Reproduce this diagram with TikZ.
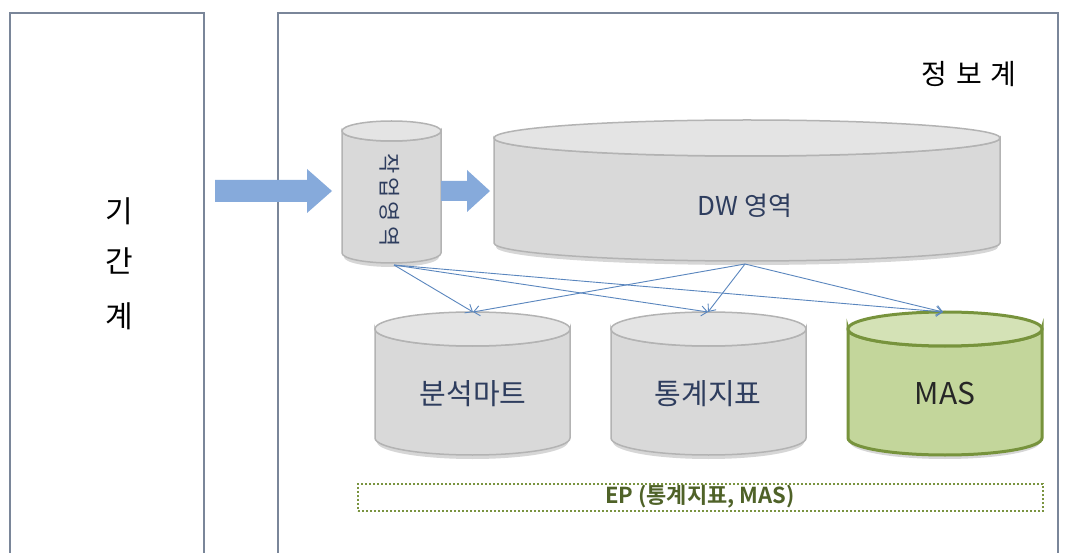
\documentclass[tikz,border=0pt]{standalone}
\usepackage{fontspec}
\newfontfamily\kr{Noto Sans CJK KR}
\newfontfamily\krb{Noto Sans CJK KR Bold}
\usetikzlibrary{arrows.meta,calc}
\definecolor{frame}{HTML}{7A8699}
\definecolor{cylfill}{HTML}{D9D9D9}
\definecolor{cyltop}{HTML}{E4E4E4}
\definecolor{cylline}{HTML}{B3B3B3}
\definecolor{masfill}{HTML}{C3D69B}
\definecolor{mastop}{HTML}{D4E2B6}
\definecolor{masline}{HTML}{77933C}
\definecolor{arrowblue}{HTML}{86AADB}
\definecolor{linkblue}{HTML}{5A86BE}
\definecolor{navytext}{HTML}{2E3D5E}
\definecolor{eptext}{HTML}{4F6228}
\definecolor{epline}{HTML}{7A9440}
\tikzset{
  framebox/.style={draw=frame, line width=2pt},
  label/.style={font=\kr, inner sep=0pt},
  link/.style={draw=linkblue, line width=0.9pt, -{Straight Barb[length=6pt,width=10pt]}},
  bigarrow/.style={fill=arrowblue, draw=none},
}
% cylinder: x1, x2, top, bottom, ry, body fill, top fill, line colour, line width
\newcommand\drawcyl[9]{%
  \pgfmathsetmacro\rx{(#2-#1)/2}%
  \pgfmathsetmacro\cx{(#1+#2)/2}%
  \pgfmathsetmacro\yt{#3+#5}%
  \pgfmathsetmacro\yb{#4-#5}%
  \fill[black!35, opacity=0.45] (#1+2,\yt+4) -- (#1+2,\yb+4) arc[start angle=180, end angle=0, x radius=\rx-2, y radius=#5] -- (#2-2,\yt+4) -- cycle;
  \filldraw[fill=#6, draw=#8, line width=#9] (#1,\yt) -- (#1,\yb) arc[start angle=180, end angle=0, x radius=\rx, y radius=#5] -- (#2,\yt) arc[start angle=0, end angle=180, x radius=\rx, y radius=#5] -- cycle;
  \filldraw[fill=#7, draw=#8, line width=#9] (\cx,\yt) ellipse[x radius=\rx, y radius=#5];
}
\begin{document}
\begin{tikzpicture}[x=1pt, y=-1pt]
\useasboundingbox (0,0) rectangle (1071,553);
\fill[white] (0,0) rectangle (1071,553);

% system frames
\draw[framebox] (10,600) -- (10,13) -- (204,13) -- (204,600);
\draw[framebox] (278,600) -- (278,13) -- (1058,13) -- (1058,600);
\node[label, font=\kr\fontsize{30}{30}\selectfont, anchor=center] (gi) at (119,211) {기};
\node[label, font=\kr\fontsize{30}{30}\selectfont, anchor=center] (gan) at (119,261) {간};
\node[label, font=\kr\fontsize{30}{30}\selectfont, anchor=center] (gye) at (119,316) {계};
\node[label, font=\kr\fontsize{28}{28}\selectfont, anchor=center] (info) at (969,74) {정\hspace{9pt}보\hspace{9pt}계};

% cylinders
\drawcyl{342}{441}{121}{263}{10}{cylfill}{cyltop}{cylline}{1.5pt}
\drawcyl{494}{1000}{120}{261}{18}{cylfill}{cyltop}{cylline}{1.5pt}
\drawcyl{375}{570}{312}{455}{17}{cylfill}{cyltop}{cylline}{1.5pt}
\drawcyl{611}{806}{312}{455}{17}{cylfill}{cyltop}{cylline}{1.5pt}
\drawcyl{848}{1042}{312}{455}{17}{masfill}{mastop}{masline}{3pt}

\node[label, text=navytext, rotate=-90, font=\kr\fontsize{22}{22}\selectfont] (wk) at (390,200) {작\hspace{4pt}업\hspace{4pt}영\hspace{4pt}역};
\node[label, text=navytext, font=\kr\fontsize{26}{26}\selectfont] (dw) at (745,206) {DW 영역};
\node[label, text=navytext, font=\kr\fontsize{29}{29}\selectfont] (mart) at (473,394) {분석마트};
\node[label, text=navytext, font=\kr\fontsize{29}{29}\selectfont] (stat) at (708,394) {통계지표};
\node[label, text=black!85, font=\kr\fontsize{30}{30}\selectfont] (mas) at (945,394) {MAS};

% connection points
\coordinate (wkb) at (394,265);
\coordinate (dwb) at (745,264);
\coordinate (martt) at (473,312);
\coordinate (statt) at (708,312);
\coordinate (mast) at (943,312);

% block arrows
\fill[bigarrow] (215,180) -- (307,180) -- (307,169) -- (332,191) -- (307,213) -- (307,202) -- (215,202) -- cycle;
\fill[bigarrow] (441,181) -- (467,181) -- (467,170) -- (490,191) -- (467,212) -- (467,201) -- (441,201) -- cycle;

% links
\draw[link] (wkb) -- (martt);
\draw[link] (wkb) -- (statt);
\draw[link] (wkb) -- (mast);
\draw[link] (dwb) -- (martt);
\draw[link] (dwb) -- (statt);
\draw[link] (dwb) -- (mast);

% EP box
\node[draw=epline, line width=2pt, dash pattern=on 2pt off 2pt, minimum width=685pt, minimum height=27pt, inner sep=0pt] (epbox) at (700.5,497.5) {};
\node[label, text=eptext, font=\krb\fontsize{22}{22}\selectfont] (ep) at (700,497) {EP (통계지표, MAS)};
\end{tikzpicture}
\end{document}
